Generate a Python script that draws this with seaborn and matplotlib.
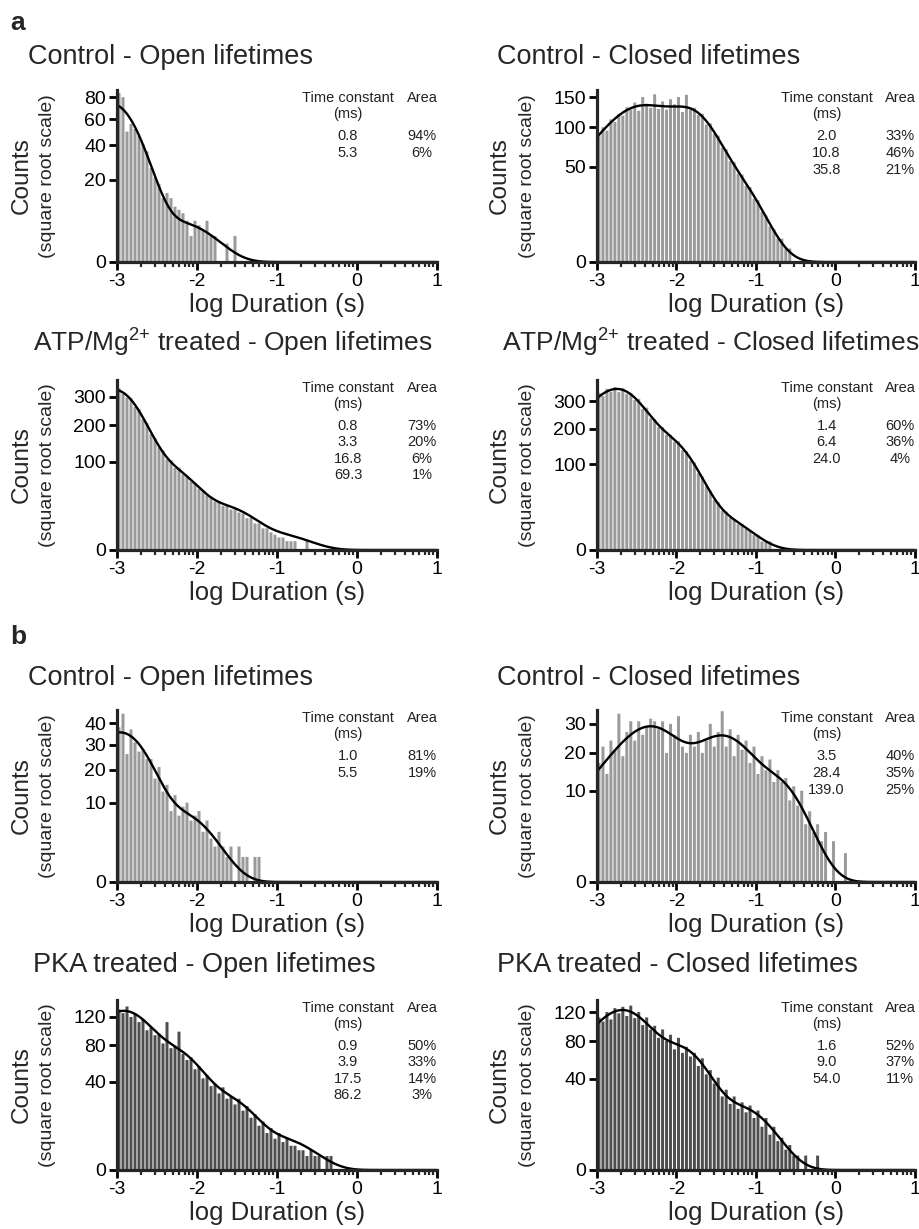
import numpy as np
import pandas as pd
import matplotlib
matplotlib.use("Agg")
import matplotlib.pyplot as plt
import seaborn as sns
from matplotlib.ticker import FixedLocator

sns.set_style("ticks")
plt.rcParams['font.family'] = ['Liberation Sans', 'DejaVu Sans']
plt.rcParams['mathtext.default'] = 'regular'

# ---- data ----
titles = ["Control - Open lifetimes", "Control - Closed lifetimes",
          "ATP/Mg$^{2{+}}$ treated - Open lifetimes", "ATP/Mg$^{2{+}}$ treated - Closed lifetimes",
          "Control - Open lifetimes", "Control - Closed lifetimes",
          "PKA treated - Open lifetimes", "PKA treated - Closed lifetimes"]

# fitted components: time constants (ms) and areas (%)
taus = [[0.8, 5.3], [2.0, 10.8, 35.8], [0.8, 3.3, 16.8, 69.3], [1.4, 6.4, 24.0],
        [1.0, 5.5], [3.5, 28.4, 139.0], [0.9, 3.9, 17.5, 86.2], [1.6, 9.0, 54.0]]
tau_lbl = [["0.8", "5.3"], ["2.0", "10.8", "35.8"], ["0.8", "3.3", "16.8", "69.3"],
           ["1.4", "6.4", "24.0"], ["1.0", "5.5"], ["3.5", "28.4", "139.0"],
           ["0.9", "3.9", "17.5", "86.2"], ["1.6", "9.0", "54.0"]]
areas = [[94, 6], [33, 46, 21], [73, 20, 6, 1], [60, 36, 4],
         [81, 19], [40, 35, 25], [50, 33, 14, 3], [52, 37, 11]]
# number of events (estimated scale of each fit)
n_events = [1820, 5165, 9200, 10450, 943, 1280, 4340, 4175]

y_ticks = [[0, 20, 40, 60, 80], [0, 50, 100, 150], [0, 100, 200, 300], [0, 100, 200, 300],
           [0, 10, 20, 30, 40], [0, 10, 20, 30], [0, 40, 80, 120], [0, 40, 80, 120]]
y_max = [87, 163, 370, 392, 47, 35.5, 148, 139]

# histogram counts, bins of 0.05 log units starting at -3
counts = [
    [84, 80, 50, 56, 52, 47, 41, 36, 26, 21, 18, 12, 14, 12, 9, 8, 7, 5, 2, 5,
     4, 3, 5, 2, 2, 0, 0, 1, 0, 2],
    [88, 100, 95, 112, 108, 121, 118, 132, 128, 140, 126, 150, 138, 131, 155, 129, 142, 128, 146, 137,
     150, 124, 154, 128, 131, 119, 121, 104, 106, 90, 88, 72, 70, 56, 55, 43, 42, 32, 31, 22,
     21, 14, 12, 7, 6, 3, 3, 1, 1],
    [335, 312, 298, 295, 262, 255, 219, 206, 172, 160, 135, 127, 105, 103, 86, 87, 73, 71, 60, 58,
     48, 46, 38, 36, 30, 30, 25, 25, 21, 21, 18, 17, 13, 13, 9, 9, 6, 6, 4, 3,
     2, 2, 1, 1, 1, 0, 0, 1],
    [335, 322, 352, 340, 360, 338, 355, 331, 335, 305, 310, 270, 275, 235, 232, 205, 204, 180, 180, 158,
     160, 135, 132, 108, 104, 80, 73, 55, 48, 34, 31, 21, 20, 14, 13, 9, 9, 6, 5, 3,
     3, 1, 1, 1],
    [38, 45, 26, 37, 31, 27, 28, 24, 24, 17, 21, 13, 15, 8, 12, 7, 9, 10, 6, 7,
     8, 4, 6, 3, 2, 4, 2, 1, 2, 0, 2, 1, 1, 0, 1, 1],
    [17, 22, 14, 24, 21, 34, 19, 27, 31, 24, 31, 26, 29, 32, 31, 28, 31, 20, 30, 26,
     33, 22, 20, 26, 22, 27, 20, 24, 30, 22, 27, 35, 22, 28, 19, 26, 21, 24, 17, 22,
     14, 19, 15, 18, 12, 15, 12, 13, 8, 11, 7, 10, 4, 6, 3, 4, 2, 3, 0, 2,
     0, 0, 1],
    [132, 126, 137, 120, 126, 112, 116, 100, 104, 93, 95, 82, 112, 76, 79, 98, 69, 62, 65, 52,
     55, 43, 46, 36, 38, 30, 35, 26, 28, 22, 26, 18, 21, 14, 16, 10, 12, 7, 9, 5,
     7, 4, 5, 3, 3, 2, 2, 1, 2, 1, 1, 0, 1, 1],
    [112, 106, 120, 109, 126, 118, 128, 114, 130, 111, 120, 101, 112, 95, 100, 84, 95, 80, 88, 70,
     84, 66, 73, 62, 66, 52, 60, 44, 48, 36, 41, 26, 31, 21, 26, 18, 22, 16, 20, 13,
     17, 9, 13, 6, 9, 4, 5, 2, 3, 1, 1, 0, 1, 0, 0, 1],
]
bar_colors = ["#9a9a9a"] * 6 + ["#4e4e4e"] * 2
title_size = [19.5, 19.5, 19, 19, 19.5, 19.5, 19.5, 19.5]

BIN = 0.05


def fit_curve(x, tau, area, n):
    t = 10 ** x * 1000.0
    g = sum(a / 100.0 * (t / tt) * np.exp(-t / tt) for tt, a in zip(tau, area))
    return n * BIN * np.log(10) * g


W, H = 920, 1229
fig = plt.figure(figsize=(W / 100, H / 100), dpi=100)

col_x = [(117, 320), (597, 318)]
rows = [(90, 262), (380, 550), (710, 882), (1000, 1170)]
title_pos = [(28, 57), (497, 57), (33, 343), (502, 343),
             (28, 678), (497, 678), (33, 965), (497, 965)]
ylab_x = [(22, 48), (500, 528)]

minor_x = [d + np.log10(k) for d in range(-3, 1) for k in range(2, 10)]
fwd = lambda y: np.sqrt(np.clip(y, 0, None))
inv = lambda y: np.square(y)

for i in range(8):
    r, c = divmod(i, 2)
    x0, w = col_x[c]
    top, bot = rows[r]
    ax = fig.add_axes([x0 / W, 1 - bot / H, w / W, (bot - top) / H])
    ax.set_yscale('function', functions=(fwd, inv))

    cnt = counts[i]
    centers = -3 + BIN * (np.arange(len(cnt)) + 0.5)
    df = pd.DataFrame({"x": centers, "n": cnt})
    sns.histplot(data=df, x="x", weights="n", binwidth=BIN,
                 binrange=(-3, -3 + BIN * len(cnt)), color=bar_colors[i],
                 alpha=1, linewidth=0, shrink=0.75, snap=False, ax=ax)

    xs = np.linspace(-3, 1, 600)
    sns.lineplot(x=xs, y=fit_curve(xs, taus[i], areas[i], n_events[i]),
                 color="black", linewidth=1.7, ax=ax)

    ax.set_xlim(-3, 1)
    ax.set_ylim(0, y_max[i])
    ax.set_xticks([-3, -2, -1, 0, 1])
    ax.set_xticklabels(["-3", "-2", "-1", "0", "1"])
    ax.xaxis.set_minor_locator(FixedLocator(minor_x))
    ax.set_yticks(y_ticks[i])
    ax.set_yticklabels([str(v) for v in y_ticks[i]])
    ax.yaxis.set_minor_locator(FixedLocator([]))
    sns.despine(ax=ax)
    for s in ["left", "bottom"]:
        ax.spines[s].set_linewidth(2.3)
    ax.tick_params(axis="both", which="major", direction="out", length=6, width=2,
                   labelsize=14, pad=2, colors="black")
    ax.tick_params(axis="x", which="minor", direction="out", length=3.5, width=1.6)
    ax.set_ylabel("")
    ax.set_xlabel("log Duration (s)", fontsize=18.5, labelpad=2)

    # fit table
    tkw = dict(transform=ax.transAxes, ha="center", va="center", fontsize=10.5,
               color="#222222")
    ax.text(0.722, 0.955, "Time constant", **tkw)
    ax.text(0.953, 0.955, "Area", **tkw)
    ax.text(0.722, 0.858, "(ms)", **tkw)
    for k, (tl, a) in enumerate(zip(tau_lbl[i], areas[i])):
        yy = 0.73 - 0.097 * k
        ax.text(0.722, yy, tl, **tkw)
        ax.text(0.953, yy, f"{a}%", **tkw)

    tx, ty = title_pos[i]
    fig.text(tx / W, 1 - ty / H, titles[i], fontsize=title_size[i], ha="left", va="center")
    ymid = 1 - (top + bot) / 2 / H
    fig.text(ylab_x[c][0] / W, ymid, "Counts", rotation=90, fontsize=17.5,
             ha="center", va="center")
    fig.text(ylab_x[c][1] / W, ymid, "(square root scale)", rotation=90, fontsize=14,
             ha="center", va="center")

fig.text(10 / W, 1 - 23 / H, "a", fontsize=19, fontweight="bold", ha="left", va="center")
fig.text(10 / W, 1 - 637 / H, "b", fontsize=19, fontweight="bold", ha="left", va="center")

fig.savefig("out.png", dpi=100)
